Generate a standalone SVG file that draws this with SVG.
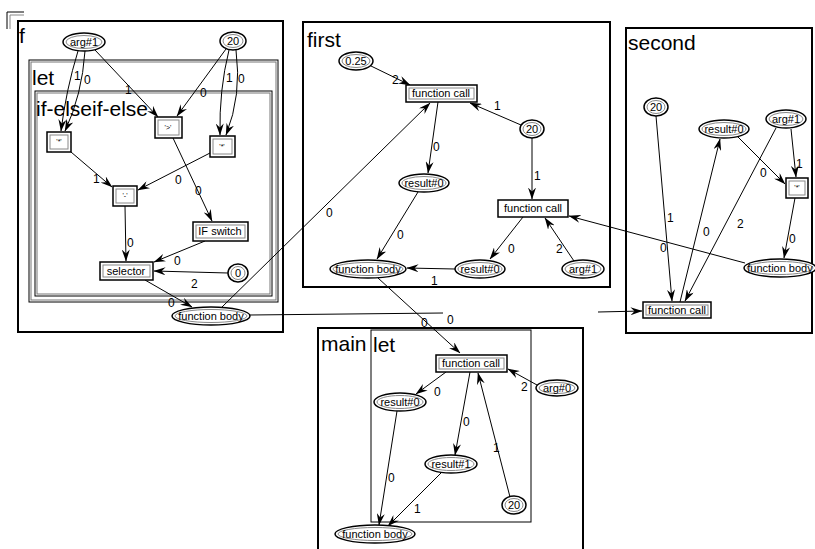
<svg xmlns="http://www.w3.org/2000/svg" width="815" height="549" viewBox="0 0 815 549">
<style>
.bg{fill:#fff}
.fr{fill:none;stroke:#000;stroke-width:2}
.fr1{fill:none;stroke:#000;stroke-width:1}
.fr2{fill:none;stroke:#777;stroke-width:1}
.title{font-family:"Liberation Sans",Arial,sans-serif;font-size:21px;fill:#000}
.ro{fill:#fff;stroke:#000;stroke-width:1.5}
.ri{fill:none;stroke:#888;stroke-width:1}
.eo{fill:#fff;stroke:#000;stroke-width:1.5}
.ei{fill:none;stroke:#888;stroke-width:1}
.t{font-family:"Liberation Sans",Arial,sans-serif;font-size:11px;text-anchor:middle;fill:#000}
.ts{font-family:"Liberation Sans",Arial,sans-serif;font-size:7px;text-anchor:middle;fill:#000}
.e{fill:none;stroke:#000;stroke-width:1;marker-end:url(#arr)}
.lbl{font-family:"Liberation Sans",Arial,sans-serif;font-size:12px;fill:#000}
</style>
<defs>
<marker id="arr" viewBox="0 0 12 8" refX="11.5" refY="4" markerWidth="12" markerHeight="8" markerUnits="userSpaceOnUse" orient="auto"><path d="M0,0 L12,4 L0,8 L4,4 z" fill="#000"/></marker>
</defs>
<rect class="bg" x="0" y="0" width="815" height="549"/>

<!-- corner mark -->
<path d="M7,29 L7,12 L24,12" fill="none" stroke="#000" stroke-width="1"/>
<path d="M10,29 L10,15 L24,15" fill="none" stroke="#888" stroke-width="1"/>

<!-- frames -->
<g id="frame-f">
<rect class="fr" x="18" y="21" width="265" height="311"/>
<text class="title" x="19" y="43">f</text>
<rect class="fr1" x="29" y="60" width="249" height="242"/>
<rect class="fr2" x="31" y="62" width="245" height="238"/>
<text class="title" x="32" y="85">let</text>
<rect class="fr1" x="35" y="91" width="237" height="205"/>
<rect class="fr2" x="37" y="93" width="233" height="201"/>
<text class="title" x="36" y="116">if-elseif-else</text>
</g>
<g id="frame-first">
<rect class="fr" x="303" y="22" width="307" height="265"/>
<text class="title" x="307" y="47">first</text>
</g>
<g id="frame-second">
<rect class="fr" x="626" y="28" width="186" height="305"/>
<text class="title" x="628" y="50">second</text>
</g>
<g id="frame-main">
<rect class="fr" x="318" y="328" width="265" height="240"/>
<text class="title" x="321" y="351">main</text>
<rect class="fr1" x="371" y="330" width="160" height="192"/>
<text class="title" x="373" y="352">let</text>
</g>

<!-- connectors -->
<g id="connectors">
<!-- f -->
<path class="e" d="M78,51 Q66,90 61,131"/>
<path class="e" d="M85,51 Q82,95 65,131"/>
<path class="e" d="M95,50 L158,117"/>
<path class="e" d="M226,49 L177,116"/>
<path class="e" d="M229,50 Q219,90 220,135"/>
<path class="e" d="M236,50 Q242,95 226,135"/>
<path class="e" d="M71,152 L112,187"/>
<path class="e" d="M210,153 L138,190"/>
<path class="e" d="M173,138 L212,221"/>
<path class="e" d="M125,206 L126,261"/>
<path class="e" d="M205,241 L154,262"/>
<path class="e" d="M228,273 L154,271"/>
<path class="e" d="M145,280 L192,307"/>
<!-- cross frames -->
<path class="e" d="M222,307 L430,103"/>
<path class="e" d="M250,315 L443,313 M598,312 L642,311"/>
<path class="e" d="M378,278 L460,353"/>
<path class="e" d="M745,263 L569,216"/>
<!-- first -->
<path class="e" d="M371,66 L410,85"/>
<path class="e" d="M521,125 L470,103"/>
<path class="e" d="M438,102 L428,173"/>
<path class="e" d="M532,138 L532,199"/>
<path class="e" d="M418,192 L377,259"/>
<path class="e" d="M523,217 L490,259"/>
<path class="e" d="M574,261 L545,218"/>
<path class="e" d="M455,269 L407,268"/>
<!-- second -->
<path class="e" d="M656,116 L672,301"/>
<path class="e" d="M680,302 L720,139"/>
<path class="e" d="M776,128 L685,301"/>
<path class="e" d="M738,137 L785,184"/>
<path class="e" d="M791,129 L796,177"/>
<path class="e" d="M795,198 L784,258"/>
<!-- main -->
<path class="e" d="M537,385 L508,369"/>
<path class="e" d="M446,372 L416,394"/>
<path class="e" d="M470,372 L455,455"/>
<path class="e" d="M510,497 L478,373"/>
<path class="e" d="M397,411 L379,525"/>
<path class="e" d="M442,472 L388,526"/>
</g>

<!-- labels -->
<g id="edge-labels">
<text class="lbl" x="74" y="80">1</text>
<text class="lbl" x="84" y="84">0</text>
<text class="lbl" x="125" y="94">1</text>
<text class="lbl" x="200" y="97">0</text>
<text class="lbl" x="226" y="82">1</text>
<text class="lbl" x="238" y="83">0</text>
<text class="lbl" x="93" y="183">1</text>
<text class="lbl" x="175" y="184">0</text>
<text class="lbl" x="195" y="195">0</text>
<text class="lbl" x="127" y="247">0</text>
<text class="lbl" x="174" y="265">0</text>
<text class="lbl" x="191" y="288">2</text>
<text class="lbl" x="168" y="307">0</text>
<text class="lbl" x="326" y="217">0</text>
<text class="lbl" x="447" y="324">0</text>
<text class="lbl" x="421" y="327">0</text>
<text class="lbl" x="660" y="252">0</text>
<text class="lbl" x="392" y="84">2</text>
<text class="lbl" x="494" y="110">1</text>
<text class="lbl" x="433" y="151">0</text>
<text class="lbl" x="534" y="180">1</text>
<text class="lbl" x="397" y="239">0</text>
<text class="lbl" x="508" y="253">0</text>
<text class="lbl" x="556" y="253">2</text>
<text class="lbl" x="431" y="285">1</text>
<text class="lbl" x="667" y="222">1</text>
<text class="lbl" x="703" y="236">0</text>
<text class="lbl" x="737" y="228">2</text>
<text class="lbl" x="760" y="177">0</text>
<text class="lbl" x="796" y="168">1</text>
<text class="lbl" x="789" y="243">0</text>
<text class="lbl" x="521" y="391">2</text>
<text class="lbl" x="434" y="396">0</text>
<text class="lbl" x="463" y="426">0</text>
<text class="lbl" x="493" y="452">1</text>
<text class="lbl" x="388" y="482">0</text>
<text class="lbl" x="414" y="513">1</text>
</g>

<!-- nodes: f -->
<g id="f-arg1"><ellipse class="eo" cx="84" cy="42" rx="21" ry="9"/><ellipse class="ei" cx="84" cy="42" rx="18" ry="6.5"/><text class="t" x="84" y="46">arg#1</text></g>
<g id="f-20"><ellipse class="eo" cx="233" cy="41" rx="13" ry="9"/><ellipse class="ei" cx="233" cy="41" rx="10" ry="6.5"/><text class="t" x="233" y="45">20</text></g>
<g id="f-mul1"><rect class="ro" x="47" y="132" width="24" height="20"/><rect class="ri" x="50" y="135" width="18" height="14"/><text class="ts" x="59" y="144">'*'</text></g>
<g id="f-gt"><rect class="ro" x="155" y="117" width="27" height="21"/><rect class="ri" x="158" y="120" width="21" height="15"/><text class="ts" x="168" y="130">'&gt;'</text></g>
<g id="f-mul2"><rect class="ro" x="210" y="136" width="25" height="21"/><rect class="ri" x="213" y="139" width="19" height="15"/><text class="ts" x="222" y="149">'*'</text></g>
<g id="f-minus"><rect class="ro" x="113" y="186" width="24" height="20"/><rect class="ri" x="116" y="189" width="18" height="14"/><text class="ts" x="125" y="198">'-'</text></g>
<g id="f-ifswitch"><rect class="ro" x="193" y="222" width="55" height="19"/><rect class="ri" x="196" y="225" width="49" height="13"/><text class="t" x="220" y="235">IF switch</text></g>
<g id="f-selector"><rect class="ro" x="100" y="262" width="53" height="18"/><rect class="ri" x="103" y="265" width="47" height="12"/><text class="t" x="126" y="275">selector</text></g>
<g id="f-zero"><ellipse class="eo" cx="238" cy="273" rx="10" ry="9"/><ellipse class="ei" cx="238" cy="273" rx="7" ry="6.5"/><text class="t" x="238" y="277">0</text></g>
<g id="f-body"><ellipse class="eo" cx="211" cy="316" rx="39" ry="9"/><ellipse class="ei" cx="211" cy="316" rx="36" ry="6.5"/><text class="t" x="211" y="320">function body</text></g>

<!-- nodes: first -->
<g id="first-025"><ellipse class="eo" cx="356" cy="61" rx="17" ry="9"/><ellipse class="ei" cx="356" cy="61" rx="14" ry="6.5"/><text class="t" x="356" y="65">0.25</text></g>
<g id="first-call1"><rect class="ro" x="406" y="85" width="71" height="17"/><rect class="ri" x="409" y="88" width="65" height="11"/><text class="t" x="441" y="97">function call</text></g>
<g id="first-20"><ellipse class="eo" cx="532" cy="129" rx="12" ry="9"/><ellipse class="ei" cx="532" cy="129" rx="9" ry="6.5"/><text class="t" x="532" y="133">20</text></g>
<g id="first-res0"><ellipse class="eo" cx="424" cy="183" rx="25" ry="9"/><ellipse class="ei" cx="424" cy="183" rx="22" ry="6.5"/><text class="t" x="424" y="187">result#0</text></g>
<g id="first-call2"><rect class="ro" x="498" y="200" width="70" height="17"/><text class="t" x="533" y="212">function call</text></g>
<g id="first-body"><ellipse class="eo" cx="368" cy="269" rx="38" ry="9"/><ellipse class="ei" cx="368" cy="269" rx="35" ry="6.5"/><text class="t" x="368" y="273">function body</text></g>
<g id="first-res0b"><ellipse class="eo" cx="480" cy="269" rx="25" ry="9"/><ellipse class="ei" cx="480" cy="269" rx="22" ry="6.5"/><text class="t" x="480" y="273">result#0</text></g>
<g id="first-arg1"><ellipse class="eo" cx="583" cy="269" rx="21" ry="9"/><ellipse class="ei" cx="583" cy="269" rx="18" ry="6.5"/><text class="t" x="583" y="273">arg#1</text></g>

<!-- nodes: second -->
<g id="second-20"><ellipse class="eo" cx="656" cy="107" rx="12" ry="9"/><ellipse class="ei" cx="656" cy="107" rx="9" ry="6.5"/><text class="t" x="656" y="111">20</text></g>
<g id="second-res0"><ellipse class="eo" cx="724" cy="129" rx="25" ry="9"/><ellipse class="ei" cx="724" cy="129" rx="22" ry="6.5"/><text class="t" x="724" y="133">result#0</text></g>
<g id="second-arg1"><ellipse class="eo" cx="786" cy="119" rx="20" ry="9"/><ellipse class="ei" cx="786" cy="119" rx="17" ry="6.5"/><text class="t" x="786" y="123">arg#1</text></g>
<g id="second-mul"><rect class="ro" x="786" y="178" width="22" height="20"/><rect class="ri" x="789" y="181" width="16" height="14"/><text class="ts" x="797" y="190">'*'</text></g>
<g id="second-body"><ellipse class="eo" cx="780" cy="268" rx="36" ry="9"/><ellipse class="ei" cx="780" cy="268" rx="33" ry="6.5"/><text class="t" x="780" y="272">function body</text></g>
<g id="second-call"><rect class="ro" x="643" y="302" width="68" height="16"/><rect class="ri" x="646" y="305" width="62" height="10"/><text class="t" x="677" y="314">function call</text></g>

<!-- nodes: main -->
<g id="main-call"><rect class="ro" x="436" y="355" width="71" height="17" stroke-width="2.5"/><rect class="ri" x="439" y="358" width="65" height="11"/><text class="t" x="471" y="367">function call</text></g>
<g id="main-arg0"><ellipse class="eo" cx="557" cy="388" rx="21" ry="8"/><ellipse class="ei" cx="557" cy="388" rx="18" ry="5.5"/><text class="t" x="557" y="392">arg#0</text></g>
<g id="main-res0"><ellipse class="eo" cx="400" cy="402" rx="26" ry="9"/><ellipse class="ei" cx="400" cy="402" rx="23" ry="6.5"/><text class="t" x="400" y="406">result#0</text></g>
<g id="main-res1"><ellipse class="eo" cx="451" cy="464" rx="26" ry="9"/><ellipse class="ei" cx="451" cy="464" rx="23" ry="6.5"/><text class="t" x="451" y="468">result#1</text></g>
<g id="main-20"><ellipse class="eo" cx="514" cy="505" rx="12" ry="9"/><ellipse class="ei" cx="514" cy="505" rx="9" ry="6.5"/><text class="t" x="514" y="509">20</text></g>
<g id="main-body"><ellipse class="eo" cx="375" cy="534" rx="40" ry="9"/><ellipse class="ei" cx="375" cy="534" rx="37" ry="6.5"/><text class="t" x="375" y="538">function body</text></g>
</svg>
